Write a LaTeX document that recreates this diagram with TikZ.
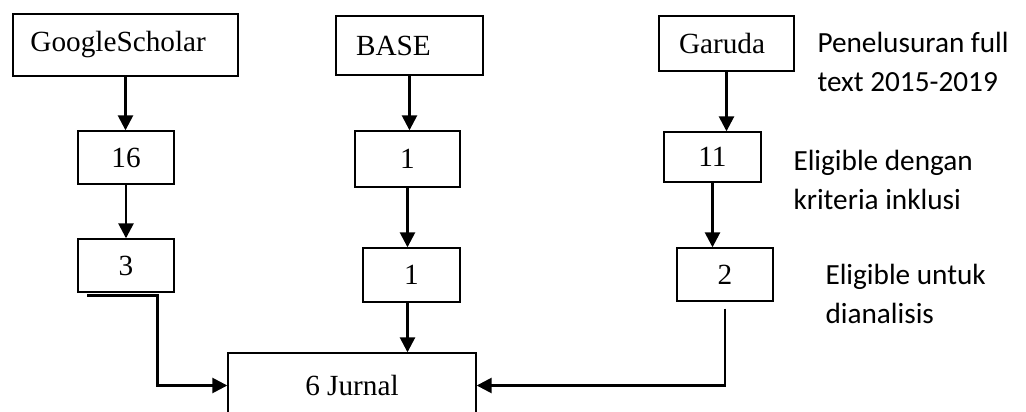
\documentclass[tikz,border=0pt]{standalone}
\usepackage{fontspec}
\setmainfont{Liberation Serif}
\newfontfamily\calibri{Carlito}
\usepackage{tikz}
\usetikzlibrary{arrows.meta}

\begin{document}
\begin{tikzpicture}[x=0.4pt, y=-0.4pt,
    every node/.style = {font=\fontsize{11.7}{15.6}\selectfont},
    kotak/.style = {shape=rectangle, draw, line width=0.55pt,
      inner sep=0pt, align=center},
    sumber/.style = {kotak, text width=#1, align=left, inner xsep=8pt},
    ket/.style = {font=\calibri\fontsize{11.7}{15.6}\selectfont,
      align=left, anchor=west, inner sep=0pt},
    panah/.style = {line width=1.05pt, -{Triangle[width=6pt,length=6pt]}}]
    \useasboundingbox (0,0) rectangle (1026,412);
    \clip (0,0) rectangle (1026,412);
    % sumber pencarian
    \node[sumber=76pt, minimum height=24.8pt, inner xsep=7pt] (gs) at (125.5,45) {GoogleScholar};
    \node[sumber=42.8pt, minimum height=23.6pt] (base) at (409.5,45.5) {BASE};
    \node[sumber=38pt, minimum height=22pt] (garuda) at (726.5,43.5) {Garuda};
    \node[kotak, minimum width=38.4pt, minimum height=21.2pt] (gs16) at (126,157.5) {16};
    \node[kotak, minimum width=38.4pt, minimum height=21.2pt] (gs3) at (126,265.5) {3};
    \node[kotak, minimum width=42pt, minimum height=22.4pt] (base1a) at (407.5,159) {1};
    \node[kotak, minimum width=38.8pt, minimum height=21.6pt] (base1b) at (411.5,275) {1};
    \node[kotak, minimum width=38.8pt, minimum height=20pt] (gar11) at (712.5,157) {11};
    \node[kotak, minimum width=38.4pt, minimum height=21.2pt] (gar2) at (725,274.5) {2};
    \node[kotak, minimum width=99.2pt, minimum height=26pt] (jurnal) at (352,385.5) {6 Jurnal};
    % keterangan
    \node[ket] (lbl1) at (817,62) {Penelusuran full\\text 2015-2019};
    \node[ket] (lbl2) at (793,180) {Eligible dengan\\kriteria inklusi};
    \node[ket] (lbl3) at (825,294) {Eligible untuk\\dianalisis};
    \draw[panah] (gs.south) -- (gs.south |- gs16.north);
    \draw[panah] (gs16.south) -- (gs16.south |- gs3.north);
    \draw[panah] ([xshift=4pt,yshift=-1.2pt]gs3.south west) -- ++(70,0) |- (jurnal.west);
    \draw[panah] (base.south) -- (base.south |- base1a.north);
    \draw[panah] (base1a.south) -- (base1a.south |- base1b.north);
    \draw[panah] (base1a.south |- base1b.south) -- (base1a.south |- jurnal.north);
    \draw[panah] (garuda.south) -- (garuda.south |- gar11.north);
    \draw[panah] (gar11.south) -- (gar11.south |- gar2.north);
    \draw[panah] ([yshift=-2.8pt]gar2.south) |- (jurnal.east);
\end{tikzpicture}
\end{document}
